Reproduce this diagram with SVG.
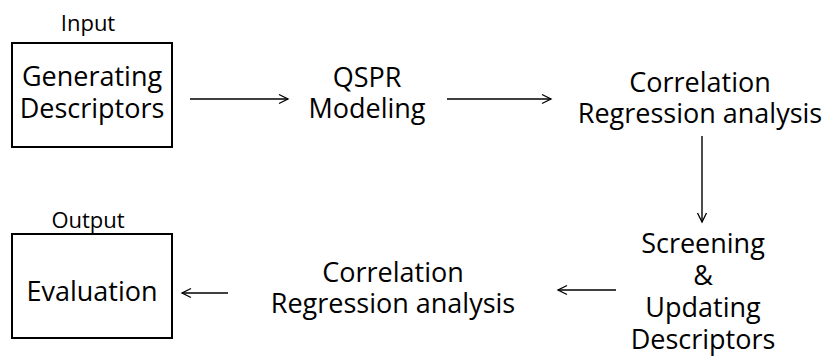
<svg xmlns="http://www.w3.org/2000/svg" width="830" height="356" viewBox="0 0 830 356">
<defs>
<marker id="arr" markerWidth="12" markerHeight="12" refX="10" refY="6" orient="auto" markerUnits="userSpaceOnUse">
<path d="M1,1.5 L10,6 L1,10.5" fill="none" stroke="#000" stroke-width="1.3"/>
</marker>
</defs>
<style>
text{font-family:"Open Sans","Noto Sans",sans-serif;fill:#000;text-anchor:middle}
.t{font-size:27px}
.s{font-size:22px}
.box{fill:none;stroke:#000;stroke-width:2}
.c{stroke:#000;stroke-width:1.4;fill:none;marker-end:url(#arr)}
</style>
<rect width="830" height="356" fill="#fff"/>
<g id="gen">
<text class="s" x="88" y="31">Input</text>
<rect class="box" x="12" y="43" width="160" height="104"/>
<text class="t" x="92" y="86">Generating</text>
<text class="t" x="92" y="118">Descriptors</text>
</g>
<g id="qspr">
<text class="t" x="367" y="87">QSPR</text>
<text class="t" x="367" y="118">Modeling</text>
</g>
<g id="corr1">
<text class="t" x="700" y="92">Correlation</text>
<text class="t" x="700" y="123">Regression analysis</text>
</g>
<g id="screen">
<text class="t" x="703" y="253">Screening</text>
<text class="t" x="703" y="285">&amp;</text>
<text class="t" x="703" y="317">Updating</text>
<text class="t" x="703" y="349">Descriptors</text>
</g>
<g id="corr2">
<text class="t" x="393" y="282">Correlation</text>
<text class="t" x="393" y="313">Regression analysis</text>
</g>
<g id="eval">
<text class="s" x="88" y="228">Output</text>
<rect class="box" x="12" y="234" width="160" height="104"/>
<text class="t" x="92" y="301">Evaluation</text>
</g>
<g id="connectors">
<line class="c" x1="190" y1="99" x2="288" y2="99"/>
<line class="c" x1="447" y1="99" x2="551" y2="99"/>
<line class="c" x1="702" y1="136" x2="702" y2="222"/>
<line class="c" x1="616" y1="290" x2="558" y2="290"/>
<line class="c" x1="228" y1="293" x2="182" y2="293"/>
</g>
</svg>
